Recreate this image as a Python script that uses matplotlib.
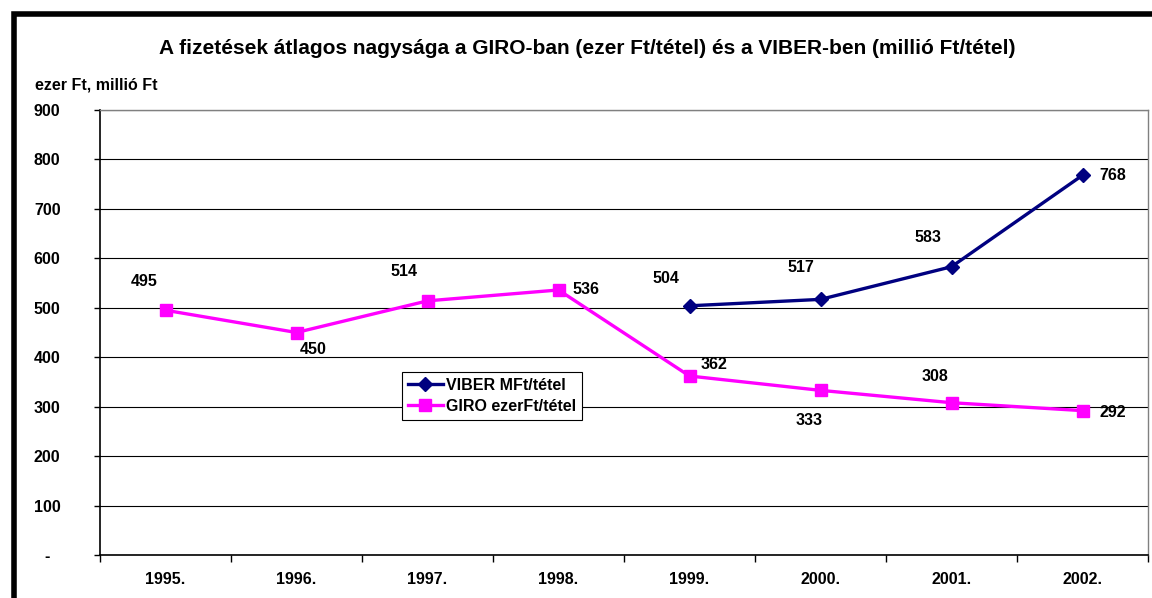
import matplotlib
matplotlib.use("Agg")
import matplotlib.pyplot as plt
from matplotlib.patches import Rectangle

years = ["1995.", "1996.", "1997.", "1998.", "1999.", "2000.", "2001.", "2002."]
giro = [495, 450, 514, 536, 362, 333, 308, 292]
viber_years = ["1999.", "2000.", "2001.", "2002."]
viber = [504, 517, 583, 768]
yticks = [0, 100, 200, 300, 400, 500, 600, 700, 800, 900]
ytick_labels = ["-", "100", "200", "300", "400", "500", "600", "700", "800", "900"]

plt.rcParams['font.family'] = ['Liberation Sans', 'DejaVu Sans']
W, H = 1152, 598
FS = 11.5
fig = plt.figure(figsize=(W/100, H/100), dpi=100)
ax = fig.add_axes([100/W, 1-555/H, 1048/W, 445/H])

xg = list(range(len(years)))
xv = [years.index(y) for y in viber_years]

ax.plot(xv, viber, color='#000080', lw=2.4, marker='D', ms=7, label='VIBER MFt/tétel', zorder=3)
ax.plot(xg, giro, color='#FF00FF', lw=2.4, marker='s', ms=8.5, label='GIRO ezerFt/tétel', zorder=3)

ax.set_xlim(-0.5, len(years)-0.5)
ax.set_ylim(0, 900)
ax.set_yticks(yticks)
ax.set_yticklabels(ytick_labels, fontsize=FS, fontweight='bold')
for t in ax.get_yticklabels():
    t.set_horizontalalignment('center')
ax.tick_params(axis='y', pad=34, length=4, width=1, direction='out')
ax.set_xticks(xg)
ax.set_xticklabels(years, fontsize=FS, fontweight='bold')
ax.set_xticks([i+0.5 for i in range(-1, len(years))], minor=True)
ax.tick_params(axis='x', which='major', length=0, pad=12)
ax.tick_params(axis='x', which='minor', length=5, width=1, direction='out')
ax.yaxis.grid(True, color='black', lw=0.8)
ax.set_axisbelow(True)
for s in ['top', 'right']:
    ax.spines[s].set_color('#808080')
    ax.spines[s].set_linewidth(1)
for s in ['left', 'bottom']:
    ax.spines[s].set_color('black')
    ax.spines[s].set_linewidth(1.2)

# data labels (offsets in points)
giro_off = [(-15, 21), (12, -12), (-17, 21), (20, 0), (18, 8), (-8, -22), (-12, 19), (22, -1)]
viber_off = [(-17, 20), (-14, 23), (-17, 21), (22, 0)]
for x, v, (dx, dy) in zip(xg, giro, giro_off):
    ax.annotate(str(v), (x, v), xytext=(dx, dy), textcoords='offset points',
                ha='center', va='center', fontsize=FS, fontweight='bold')
for x, v, (dx, dy) in zip(xv, viber, viber_off):
    ax.annotate(str(v), (x, v), xytext=(dx, dy), textcoords='offset points',
                ha='center', va='center', fontsize=FS, fontweight='bold')

leg = ax.legend(loc='upper left', bbox_to_anchor=((402-100)/1048, (555-372)/445),
                frameon=True, fancybox=False, edgecolor='black', framealpha=1,
                prop={'weight': 'bold', 'size': FS}, handlelength=2.2,
                handletextpad=0.2, borderpad=0.35, labelspacing=0.4, borderaxespad=0)
leg.get_frame().set_linewidth(0.8)

fig.text(587/W, 1-48/H, "A fizetések átlagos nagysága a GIRO-ban (ezer Ft/tétel) és a VIBER-ben (millió Ft/tétel)",
         ha='center', va='center', fontsize=15, fontweight='bold')
fig.text(35/W, 1-85/H, "ezer Ft, millió Ft", ha='left', va='center', fontsize=FS, fontweight='bold')

fig.patches.append(Rectangle((14/W, -0.1), 1.2, 1-14/H+0.1, transform=fig.transFigure,
                             fill=False, edgecolor='black', lw=4, figure=fig))

fig.savefig("out.png", dpi=100)
